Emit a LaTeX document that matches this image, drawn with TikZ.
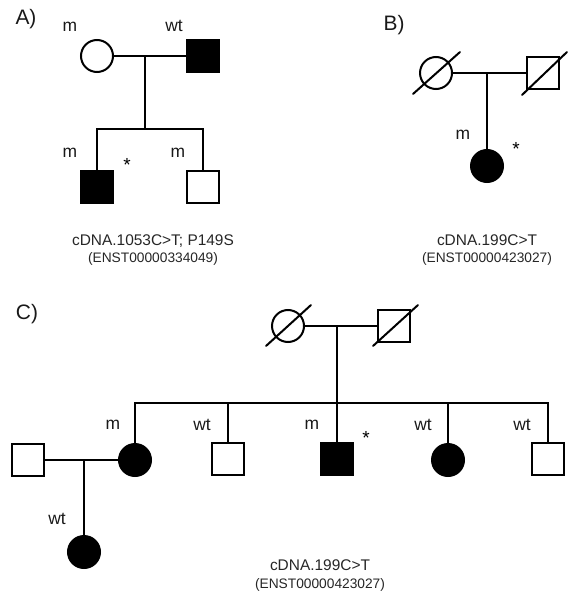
\documentclass[tikz,border=0pt]{standalone}
\usepackage{fontspec}
\setmainfont{Liberation Sans}
\usetikzlibrary{calc}
\begin{document}
\begin{tikzpicture}[x=1bp,y=-1bp,
  ind/.style={draw=black, line width=2bp, minimum size=32bp, inner sep=0pt, fill=white},
  male/.style={ind, rectangle},
  female/.style={ind, circle},
  aff/.style={fill=black},
  lbl/.style={font=\fontsize{17.5}{18}\selectfont, inner sep=0pt, text=black!90},
  star/.style={font=\fontsize{19}{19}\selectfont, inner sep=0pt, anchor=base},
  panel/.style={font=\fontsize{21}{21}\selectfont, inner sep=0pt, text=black!90},
  cdna/.style={font=\fontsize{15.5}{16}\selectfont, inner sep=0pt, anchor=base, text=black!85},
  enst/.style={font=\fontsize{13.8}{14}\selectfont, inner sep=0pt, anchor=base, text=black!85},
  rel/.style={line width=2bp},
  dead/.style={line width=2bp, line cap=round}
]
\useasboundingbox (0,0) rectangle (579,600);

% ---------------- Panel A ----------------
\node[panel] (pa) at (26,19) {A)};
\node[female] (A1) at (97,56) {};
\node[male,aff] (A2) at (203,56) {};
\node[male,aff] (A3) at (97,187) {};
\node[male] (A4) at (203,187) {};
\coordinate (Am) at (145,56);
\coordinate (As) at (145,129);
\draw[rel] (A1.east) -- (A2.west);
\draw[rel] (Am) -- (As);
\draw[rel] (A3.north) -- (A3.north |- As) -- (A4.north |- As) -- (A4.north);
\node[lbl] (lA1) at (70,27) {m};
\node[lbl] (lA2) at (174,26) {wt};
\node[lbl] (lA3) at (70,153) {m};
\node[lbl] (lA4) at (178,153) {m};
\node[star] (sA) at (127,172) {*};
\node[cdna] (tA1) at (153,245) {cDNA.1053C>T; P149S};
\node[enst] (tA2) at (153,262) {(ENST00000334049)};

% ---------------- Panel B ----------------
\node[panel] (pb) at (394,25) {B)};
\node[female] (B1) at (436,73) {};
\node[male] (B2) at (543,73) {};
\node[female,aff] (B3) at (487,166) {};
\draw[dead] ($(B1)+(-23,21)$) -- ($(B1)+(24,-21)$);
\draw[dead] ($(B2)+(-21,22)$) -- ($(B2)+(24,-21)$);
\coordinate (Bm) at (487,73);
\draw[rel] (B1.east) -- (B2.west);
\draw[rel] (Bm) -- (B3.north);
\node[lbl] (lB3) at (463,135) {m};
\node[star] (sB) at (516,156) {*};
\node[cdna] (tB1) at (487,245) {cDNA.199C>T};
\node[enst] (tB2) at (487,262) {(ENST00000423027)};

% ---------------- Panel C ----------------
\node[panel] (pc) at (27,314) {C)};
\node[female] (C1) at (288,326) {};
\node[male] (C2) at (394,326) {};
\draw[dead] ($(C1)+(-22,20)$) -- ($(C1)+(23,-21)$);
\draw[dead] ($(C2)+(-21,20)$) -- ($(C2)+(24,-21)$);
\coordinate (Cm) at (337,326);
\coordinate (Cs) at (337,403);
\draw[rel] (C1.east) -- (C2.west);
\draw[rel] (Cm) -- (Cs);

\node[female,aff] (D1) at (135,460) {};
\node[male] (D2) at (228,459) {};
\node[male,aff] (D3) at (337,459) {};
\node[female,aff] (D4) at (448,460) {};
\node[male] (D5) at (548,459) {};
\draw[rel] (D1.north) -- (D1.north |- Cs) -- (D5.north |- Cs) -- (D5.north);
\draw[rel] (D2.north |- Cs) -- (D2.north);
\draw[rel] (D3.north |- Cs) -- (D3.north);
\draw[rel] (D4.north |- Cs) -- (D4.north);

\node[male] (E1) at (28,460) {};
\node[female,aff] (E2) at (84,552) {};
\coordinate (Em) at (84,460);
\draw[rel] (E1.east) -- (D1.west);
\draw[rel] (Em) -- (E2.north);

\node[lbl] (lD1) at (113,425) {m};
\node[lbl] (lD2) at (202,425) {wt};
\node[lbl] (lD3) at (312,425) {m};
\node[star] (sD) at (366,444) {*};
\node[lbl] (lD4) at (423,425) {wt};
\node[lbl] (lD5) at (522,425) {wt};
\node[lbl] (lE2) at (57,519) {wt};
\node[cdna] (tC1) at (320,570) {cDNA.199C>T};
\node[enst] (tC2) at (320,588) {(ENST00000423027)};
\end{tikzpicture}
\end{document}
